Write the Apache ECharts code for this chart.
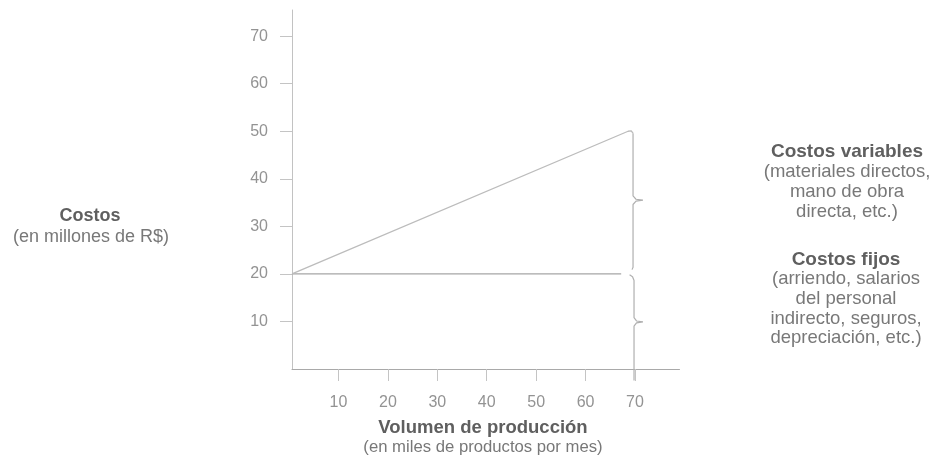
<!DOCTYPE html>
<html>
<head>
<meta charset="utf-8">
<script src="https://cdn.jsdelivr.net/npm/echarts@6/dist/echarts.min.js"></script>
<style>
  html, body { margin: 0; padding: 0; background: #fff; }
  #chart { width: 936px; height: 460px; }
</style>
</head>
<body>
<div id="chart"></div>
<script>
// Tick values shown on each axis
var xTicks = [10, 20, 30, 40, 50, 60, 70];
var yTicks = [10, 20, 30, 40, 50, 60, 70];

// Cost lines (x: thousands of products per month, y: millions of R$)
var variableCostLine = [[0.6, 20], [68.6, 50], [69.2, 50.1], [69.6, 49.6]];
var fixedCostLine = [[0.6, 20], [67.2, 20]];

// Brace grouping the variable costs (from 50 down to 20)
var variableBrace = [[69.6, 49.6], [69.6, 36.4], [70.2, 35.7], [71.6, 35.5], [70.2, 35.3], [69.6, 34.6], [69.6, 21.4], [69.4, 20.9]];
// Brace grouping the fixed costs (from 20 down to 0)
var fixedBrace = [[68.9, 19.8], [69.5, 19.4], [69.8, 18.6], [69.8, 10.8], [70.3, 10.1], [71.6, 9.9], [70.3, 9.7], [69.8, 9.0], [69.8, -2.4]];

// Side and axis captions
var yTitle = 'Costos';
var ySubtitle = '(en millones de R$)';
var xTitle = 'Volumen de producción';
var xSubtitle = '(en miles de productos por mes)';
var variableTitle = 'Costos variables';
var variableNotes = ['(materiales directos,', 'mano de obra', 'directa, etc.)'];
var fixedTitle = 'Costos fijos';
var fixedNotes = ['(arriendo, salarios', 'del personal', 'indirecto, seguros,', 'depreciación, etc.)'];

var font = '"Liberation Sans", Arial, sans-serif';
var axisGray = '#a9a9a9';
var labelGray = '#939393';
var titleColor = '#5f5f5f';
var noteColor = '#787878';

var chart = echarts.init(document.getElementById('chart'), null, { renderer: 'canvas' });

function lineSeries(data, color, width) {
  return {
    type: 'line',
    data: data,
    showSymbol: false,
    symbol: 'none',
    silent: true,
    clip: false,
    lineStyle: { color: color, width: width },
    animation: false
  };
}

function caption(text, x, y, size, bold, color) {
  return {
    type: 'text',
    x: x,
    y: y,
    style: {
      text: text,
      textAlign: 'center',
      textVerticalAlign: 'middle',
      font: (bold ? 'bold ' : '') + size + 'px ' + font,
      fill: color
    }
  };
}

var graphics = [
  caption(yTitle, 90, 216, 18, true, titleColor),
  caption(ySubtitle, 91, 237, 18, false, noteColor),
  caption(xTitle, 483, 428, 18.5, true, titleColor),
  caption(xSubtitle, 483, 447, 16.7, false, noteColor),
  caption(variableTitle, 847, 152, 19, true, titleColor),
  caption(fixedTitle, 846, 260, 19, true, titleColor)
];
variableNotes.forEach(function (t, i) { graphics.push(caption(t, 847, 172 + i * 20, 18.5, false, noteColor)); });
fixedNotes.forEach(function (t, i) { graphics.push(caption(t, 846, 279 + i * 19.8, 18.5, false, noteColor)); });

chart.setOption({
  animation: false,
  backgroundColor: '#ffffff',
  grid: { left: 292, top: 10, width: 387.5, height: 359 },
  xAxis: {
    type: 'value',
    min: 0.6,
    max: 79,
    axisLine: { show: true, onZero: false, lineStyle: { color: axisGray, width: 1 } },
    axisTick: { show: true, customValues: xTicks, length: 12, inside: false, lineStyle: { color: '#c4c4c4' } },
    axisLabel: { customValues: xTicks, margin: 26, color: labelGray, fontSize: 16, fontFamily: font },
    splitLine: { show: false }
  },
  yAxis: {
    type: 'value',
    min: 0,
    max: 75.5,
    axisLine: { show: true, onZero: false, lineStyle: { color: '#c2c2c2', width: 1 } },
    axisTick: { show: true, customValues: yTicks, length: 12, lineStyle: { color: '#c4c4c4' } },
    axisLabel: { customValues: yTicks, margin: 24, color: labelGray, fontSize: 16, fontFamily: font },
    splitLine: { show: false }
  },
  series: [
    lineSeries(fixedCostLine, '#a6a6a6', 1.2),
    lineSeries(variableCostLine, '#bcbcbc', 1.3),
    lineSeries(variableBrace, '#b0b0b0', 1.2),
    lineSeries(fixedBrace, '#b0b0b0', 1.2)
  ],
  graphic: graphics
});
</script>
</body>
</html>
